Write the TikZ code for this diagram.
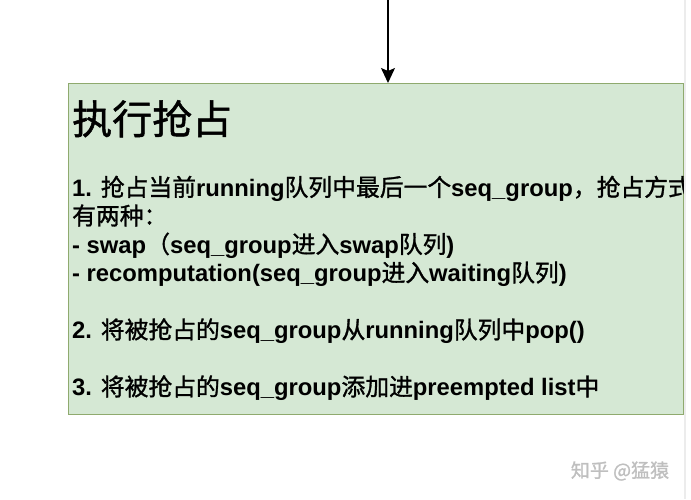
\documentclass[tikz,border=0pt]{standalone}
\usepackage{fontspec}
\setmainfont{Liberation Sans}
\newfontfamily\zhfont[FakeBold=1.2]{Noto Sans CJK SC}
\usepackage{xcolor}
\definecolor{boxGreen}{HTML}{D5E8D4}
\definecolor{boxEdge}{HTML}{8FAA6E}
\usepackage{tikz}
\usetikzlibrary{arrows.meta, positioning}
\newcommand{\zh}[1]{{\zhfont\mdseries #1}}

\begin{document}
\begin{tikzpicture}[
    x=1pt, y=-1pt,
    box/.style={
        rectangle, draw=boxEdge, fill=boxGreen, line width=1.2pt,
        minimum width=615pt, minimum height=331pt, inner sep=0pt, anchor=north west
    },
    ttl/.style={anchor=base west, inner sep=0pt, font=\fontsize{40}{48}\selectfont},
    txt/.style={anchor=base west, inner sep=0pt, align=left, font=\bfseries\fontsize{23.8}{28.5}\selectfont},
    wmark/.style={inner sep=0pt, text=gray!50, font=\fontsize{19}{22}\selectfont},
    arr/.style={-{Stealth[length=15pt, width=14pt, inset=3pt]}, line width=1.6pt}
]
\useasboundingbox (0,0) rectangle (691,499);

%% ---- Box ----
\node[box] (box) at (68,83) {};

%% ---- Incoming arrow ----
\coordinate (src) at (388,0);
\draw[arr] (src) -- (box.north -| src);

%% ---- Text, cut at the right edge ----
\begin{scope}
\clip (box.north west) rectangle (box.south east);
\node[ttl] (title) at (72,134) {\zh{执行抢占}};
% base of a multi-line node sits on its last line
\node[txt] (steps) at (72,395.5) {%
    1. \zh{抢占当前}running\zh{队列中最后一个}seq\_group\zh{，抢占方式}\\
    \zh{有两种：}\\
    - swap\zh{（}seq\_group\zh{进入}swap\zh{队列})\\
    - recomputation(seq\_group\zh{进入}waiting\zh{队列})\\[28.5pt]
    2. \zh{将被抢占的}seq\_group\zh{从}running\zh{队列中}pop()\\[28.5pt]
    3. \zh{将被抢占的}seq\_group\zh{添加进}preempted list\zh{中}};
\end{scope}

%% ---- Right edge of the page ----
\draw[gray!15, line width=1.5pt] (685,0) -- (685,499);

%% ---- Watermark ----
\node[wmark] (zhihu) at (620,471) {\zh{知乎 @猛猿}};

\end{tikzpicture}
\end{document}
